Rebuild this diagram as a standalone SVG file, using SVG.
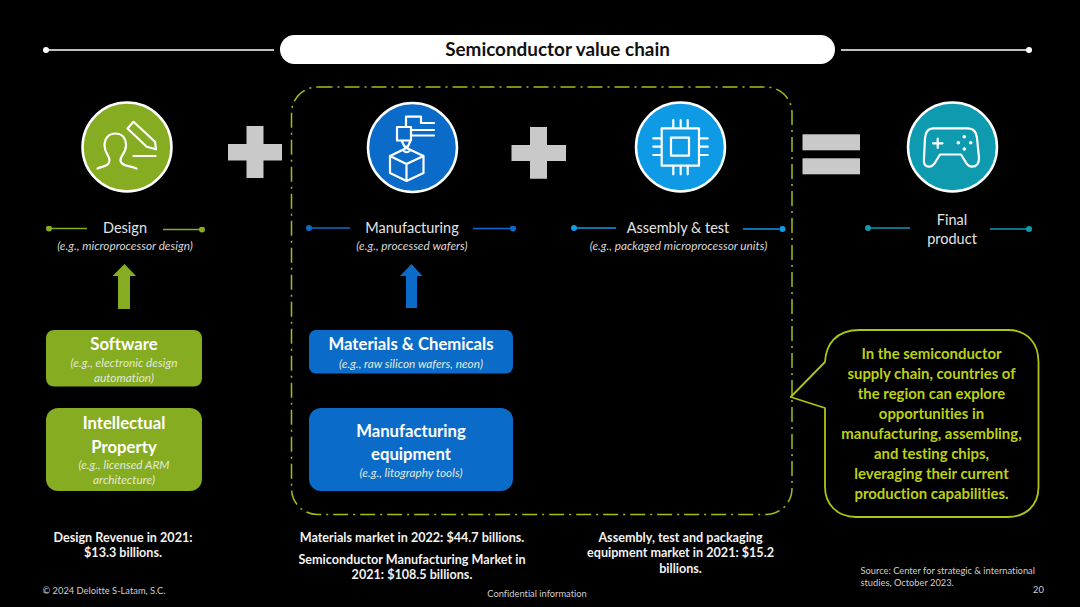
<svg xmlns="http://www.w3.org/2000/svg" width="1080" height="607" viewBox="0 0 1080 607">
<defs>
<style>
text{font-family:"Lato","Liberation Sans",sans-serif;text-anchor:middle;font-variant-ligatures:none}
.ic{fill:none;stroke:#fff;stroke-width:2.2;stroke-linecap:round;stroke-linejoin:round}
.ring{stroke:#fff;stroke-width:2.5}
.lbl{font-size:14.500px;fill:#e4e4e4}
.sub{font-size:11.800px;font-style:italic;fill:#d8d8d8}
.bh{font-size:16.700px;font-weight:700;fill:#fff}
.bs{font-size:11.800px;font-style:italic;fill:#e2e8d8}
.fact{font-size:12.600px;font-weight:700;fill:#f2f2f2}
.call{font-size:14.900px;font-weight:700;fill:#bdd014}
.foot{font-size:9.300px;fill:#cfcfcf}
.op{fill:#c9c9c9}
.w{stroke:#fff;stroke-width:1.5;fill:none}
.g{stroke:#86ad22;stroke-width:1.5;fill:none}
.b{stroke:#0b6bc8;stroke-width:1.5;fill:none}
.c{stroke:#0f9ae6;stroke-width:1.5;fill:none}
.t{stroke:#0e9bb0;stroke-width:1.5;fill:none}
</style>
<marker id="dw" markerWidth="6" markerHeight="6" refX="3" refY="3" markerUnits="userSpaceOnUse"><circle cx="3" cy="3" r="3" fill="#fff"/></marker>
<marker id="dg" markerWidth="6" markerHeight="6" refX="3" refY="3" markerUnits="userSpaceOnUse"><circle cx="3" cy="3" r="3" fill="#86ad22"/></marker>
<marker id="db" markerWidth="6" markerHeight="6" refX="3" refY="3" markerUnits="userSpaceOnUse"><circle cx="3" cy="3" r="3" fill="#0b6bc8"/></marker>
<marker id="dc" markerWidth="6" markerHeight="6" refX="3" refY="3" markerUnits="userSpaceOnUse"><circle cx="3" cy="3" r="3" fill="#0f9ae6"/></marker>
<marker id="dt" markerWidth="6" markerHeight="6" refX="3" refY="3" markerUnits="userSpaceOnUse"><circle cx="3" cy="3" r="3" fill="#0e9bb0"/></marker>
</defs>
<rect width="1080" height="607" fill="#000"/>

<g id="connectors">
<path class="w" d="M274 50H46" marker-end="url(#dw)"/>
<path class="w" d="M841 50H1029" marker-end="url(#dw)"/>
<path class="g" d="M87 228.500H49" marker-end="url(#dg)"/>
<path class="g" d="M163 229.500H202" marker-end="url(#dg)"/>
<path class="b" d="M350 228H309" marker-end="url(#db)"/>
<path class="b" d="M473 228.500H513" marker-end="url(#db)"/>
<path class="c" d="M616 228H574" marker-end="url(#dc)"/>
<path class="c" d="M743 229H782.500" marker-end="url(#dc)"/>
<path class="t" d="M910 228H868" marker-end="url(#dt)"/>
<path class="t" d="M990 229H1029" marker-end="url(#dt)"/>
</g>

<g id="title">
<rect x="280" y="35" width="555" height="29" rx="14.500" fill="#fff"/>
<text x="557.500" y="56" font-size="18.900" font-weight="700" fill="#111">Semiconductor value chain</text>
</g>

<rect id="frame" x="291.500" y="87" width="500.500" height="427.500" rx="26" fill="none" stroke="#a8ba14" stroke-width="1.500" stroke-dasharray="15 5 2 5"/>

<g id="design">
<circle class="ring" cx="127" cy="147" r="44.500" fill="#86ad22"/>
<path class="ic" d="M97.500 168.500C103 166 109 166.500 109.500 160.500C110 156 104.500 153 104.500 145.500C104.500 138 109 133.500 115.500 133.500C122 133.500 126 138 126 145.500C126 153 120 156 120.500 160.500C121 166.500 131 165.500 136.500 168.500"/>
<path class="ic" d="M133.500 156H155.500M127.500 128.500L133.500 121.800L155 141.700L156 149.300L146.700 146.700Z"/>
<text class="lbl" x="125" y="233">Design</text>
<text class="sub" x="125" y="250">(e.g., microprocessor design)</text>
</g>

<g id="plus1"><path class="op" d="M246.500 126H263.500V144H282V160.500H263.500V178H246.500V160.500H228V144H246.500Z"/></g>

<g id="manufacturing">
<circle class="ring" cx="412.500" cy="147.500" r="44.500" fill="#0b6bc8"/>
<path class="ic" d="M397 127H411V140.500H397ZM406 127V116.700H421V123H434M411 130H434M411 135.500H434M401.500 140.500L404.500 146.500H408L410.500 140.500M406.500 148L423.500 156V173L406.500 181L390 173V156ZM390 156L406.500 164L423.500 156M406.500 164V181M403.500 150.500Q406.500 154 410 150.500"/>
<text class="lbl" x="412" y="233">Manufacturing</text>
<text class="sub" x="412" y="250">(e.g., processed wafers)</text>
</g>

<g id="plus2"><path class="op" d="M530 127H547V145H566V161H547V178.700H530V161H511.500V145H530Z"/></g>

<g id="assembly">
<circle class="ring" cx="680.500" cy="147" r="44.500" fill="#0f9ae6"/>
<path class="ic" d="M661.700 128.300H699V165.700H661.700ZM671 137.700H689V155.700H671ZM673.300 120V128.300M680.700 120V128.300M687.700 120V128.300M673.300 165.700V174.300M680.700 165.700V174.300M687.700 165.700V174.300M653.300 138.300H661.700M653.300 146.700H661.700M653.300 155H661.700M699 138.300H707.700M699 146.700H707.700M699 155H707.700"/>
<text class="lbl" x="678" y="233">Assembly &amp; test</text>
<text class="sub" x="678.500" y="250">(e.g., packaged microprocessor units)</text>
</g>

<g id="equals"><rect class="op" x="802.500" y="134.300" width="57.500" height="16"/><rect class="op" x="802.500" y="158.300" width="57.500" height="16"/></g>

<g id="final">
<circle class="ring" cx="952.500" cy="147" r="44.500" fill="#0e9bb0"/>
<path class="ic" d="M933 128.300H968Q976 128.300 977 138L979 158Q979 166.700 972 166.700Q968 166.700 965 161L961 154.500H940L936 161Q933 166.700 929 166.700Q923 166.700 924 158L925 138Q926 128.300 933 128.300ZM933 143.300H942.500M937.700 138.500V148"/>
<g fill="#fff"><circle cx="964.300" cy="136.700" r="1.800"/><circle cx="958.300" cy="142.700" r="1.800"/><circle cx="970.700" cy="142.700" r="1.800"/><circle cx="964.300" cy="149" r="1.800"/></g>
<text class="lbl" x="952" y="225">Final</text>
<text class="lbl" x="952" y="244">product</text>
</g>

<g id="arrow-green"><path fill="#86ad22" d="M124.500 264L136 276H130V309H118V276H112.500Z"/></g>
<g id="arrow-blue"><path fill="#0b6bc8" d="M411.500 264L422.500 276H417V308H406V276H400Z"/></g>

<g id="software">
<rect x="46" y="330" width="156" height="56.500" rx="8" fill="#86ad22"/>
<text class="bh" x="124" y="349.500">Software</text>
<text class="bs" x="124" y="367">(e.g., electronic design</text>
<text class="bs" x="124" y="381.500">automation)</text>
</g>
<g id="ip">
<rect x="46" y="408" width="156" height="83" rx="12" fill="#86ad22"/>
<text class="bh" x="124" y="429">Intellectual</text>
<text class="bh" x="124" y="452.500">Property</text>
<text class="bs" x="124" y="469">(e.g., licensed ARM</text>
<text class="bs" x="124" y="484">architecture)</text>
</g>
<g id="materials">
<rect x="309" y="330" width="204" height="43.500" rx="7" fill="#0b6bc8"/>
<text class="bh" x="411" y="350">Materials &amp; Chemicals</text>
<text class="bs" x="411" y="367.500">(e.g., raw silicon wafers, neon)</text>
</g>
<g id="equipment">
<rect x="309" y="408" width="204" height="83" rx="12" fill="#0b6bc8"/>
<text class="bh" x="411" y="436.500">Manufacturing</text>
<text class="bh" x="411" y="460">equipment</text>
<text class="bs" x="411" y="476.500">(e.g., litography tools)</text>
</g>

<g id="callout">
<path d="M825 362C826 345 835 330 860 330H1008C1028 330 1038.500 344 1038.500 362V487C1038.500 505 1026 517 1008 517H856C836 517 825 503 825 487V408L790.700 397Z" fill="#000" stroke="#b0c414" stroke-width="1.800" stroke-linejoin="round"/>
<text class="call" x="931.500" y="359">In the semiconductor</text>
<text class="call" x="931.500" y="379">supply chain, countries of</text>
<text class="call" x="931.500" y="399">the region can explore</text>
<text class="call" x="931.500" y="419">opportunities in</text>
<text class="call" x="931.500" y="439">manufacturing, assembling,</text>
<text class="call" x="931.500" y="459">and testing chips,</text>
<text class="call" x="931.500" y="479">leveraging their current</text>
<text class="call" x="931.500" y="499">production capabilities.</text>
</g>

<g id="facts">
<text class="fact" x="123" y="541.500">Design Revenue in 2021:</text>
<text class="fact" x="123" y="557">$13.3 billions.</text>
<text class="fact" x="412" y="541.500">Materials market in 2022: $44.7 billions.</text>
<text class="fact" x="412" y="564">Semiconductor Manufacturing Market in</text>
<text class="fact" x="412" y="579">2021: $108.5 billions.</text>
<text class="fact" x="680.500" y="541.500">Assembly, test and packaging</text>
<text class="fact" x="680.500" y="557">equipment market in 2021: $15.2</text>
<text class="fact" x="680.500" y="572.500">billions.</text>
</g>

<g id="footer">
<text class="foot" x="42.500" y="594" style="text-anchor:start">© 2024 Deloitte S-Latam, S.C.</text>
<text class="foot" x="537" y="597">Confidential information</text>
<text class="foot" x="860.500" y="574" style="text-anchor:start">Source: Center for strategic &amp; international</text>
<text class="foot" x="860.500" y="586" style="text-anchor:start">studies, October 2023.</text>
<text class="foot" x="1038.500" y="593">20</text>
</g>
</svg>
